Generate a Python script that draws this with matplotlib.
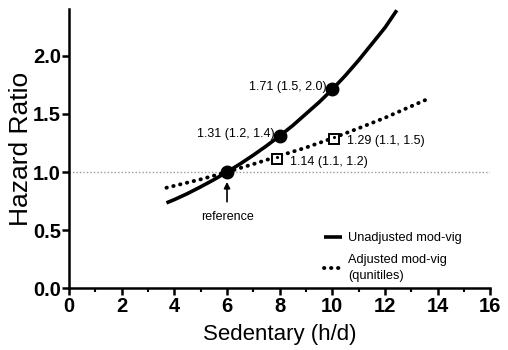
import matplotlib
matplotlib.use('Agg')
import matplotlib.pyplot as plt

plt.rcParams['font.family'] = ['Liberation Sans', 'DejaVu Sans']

# unadjusted curve
unadj_x = [3.7, 4.0, 4.5, 5.0, 5.5, 6.0, 6.5, 7.0, 7.5, 8.0, 8.5, 9.0, 9.5, 10.0, 10.5, 11.0, 11.5, 12.0, 12.45]
unadj_y = [0.735, 0.763, 0.815, 0.873, 0.934, 1.0, 1.07, 1.145, 1.225, 1.31, 1.40, 1.50, 1.60, 1.71, 1.83, 1.96, 2.10, 2.24, 2.39]
# adjusted (quintiles) dotted line
adj_x = [3.7, 5.0, 6.0, 7.0, 8.0, 9.0, 10.0, 11.0, 12.0, 13.65]
adj_y = [0.865, 0.937, 1.0, 1.068, 1.14, 1.21, 1.29, 1.376, 1.466, 1.63]

pts_x = [6, 8, 10]
pts_y = [1.0, 1.31, 1.71]
pts_lab = ['', '1.31 (1.2, 1.4)', '1.71 (1.5, 2.0)']
sq_x = [7.9, 10.05]
sq_y = [1.115, 1.285]
sq_lab = ['1.14 (1.1, 1.2)', '1.29 (1.1, 1.5)']

fig = plt.figure(figsize=(5.08, 3.5), dpi=100)
ax = fig.add_axes([0.136, 0.176, 0.829, 0.798])

ax.axhline(1.0, color='#999999', lw=1.0, ls=(0, (1, 1.5)), zorder=1)

ax.plot(unadj_x, unadj_y, color='black', lw=2.6, solid_capstyle='butt',
        label='Unadjusted mod-vig', zorder=3)
ax.plot(adj_x, adj_y, color='black', lw=2.8, ls=(0, (0.1, 1.7)),
        dash_capstyle='round', label='Adjusted mod-vig\n(qunitiles)', zorder=3)
ax.plot(pts_x, pts_y, 'o', color='black', ms=9, zorder=4)
ax.plot(sq_x, sq_y, 's', mfc='white', mec='black', mew=1.4, ms=6.5, zorder=4)
ax.plot(sq_x, [y + 0.015 for y in sq_y], '.', color='black', ms=2.5, zorder=5)

for x, y, t in zip(pts_x, pts_y, pts_lab):
    if t:
        ax.text(x - 0.2, y + 0.02, t, ha='right', va='center', fontsize=9)
for x, y, t, dy in zip(sq_x, sq_y, sq_lab, [-0.03, -0.022]):
    ax.text(x + 0.5, y + dy, t, ha='left', va='center', fontsize=9)

ax.annotate('reference', xy=(6, 0.915), xytext=(6, 0.61), ha='center', va='center',
            fontsize=9, arrowprops=dict(arrowstyle='-|>', color='black', lw=1.2,
                                        mutation_scale=9, shrinkA=5, shrinkB=0))

ax.set_xlim(0, 16)
ax.set_ylim(0, 2.4)
ax.set_xticks(range(0, 17, 2))
ax.set_xticks(range(0, 17), minor=True)
ax.set_yticks([0, 0.5, 1.0, 1.5, 2.0])
ax.set_yticklabels(['0.0', '0.5', '1.0', '1.5', '2.0'])
for lab in ax.get_xticklabels() + ax.get_yticklabels():
    lab.set_fontweight('bold')
    lab.set_fontsize(14.5)
ax.tick_params(which='major', length=5, width=1.8, pad=1)
ax.tick_params(which='minor', length=3, width=1.5)
ax.spines['top'].set_visible(False)
ax.spines['right'].set_visible(False)
ax.spines['left'].set_linewidth(1.8)
ax.spines['bottom'].set_linewidth(1.8)

ax.set_xlabel('Sedentary (h/d)', fontsize=16, labelpad=6)
ax.set_ylabel('Hazard Ratio', fontsize=19, labelpad=0)

leg = ax.legend(loc='upper left', bbox_to_anchor=(0.606, 0.202), frameon=False,
                borderpad=0, borderaxespad=0, fontsize=9.2, handlelength=1.35,
                handletextpad=0.5, labelspacing=0.75)
leg.get_texts()[1].set_linespacing(1.45)

fig.savefig('out.png', dpi=100)
